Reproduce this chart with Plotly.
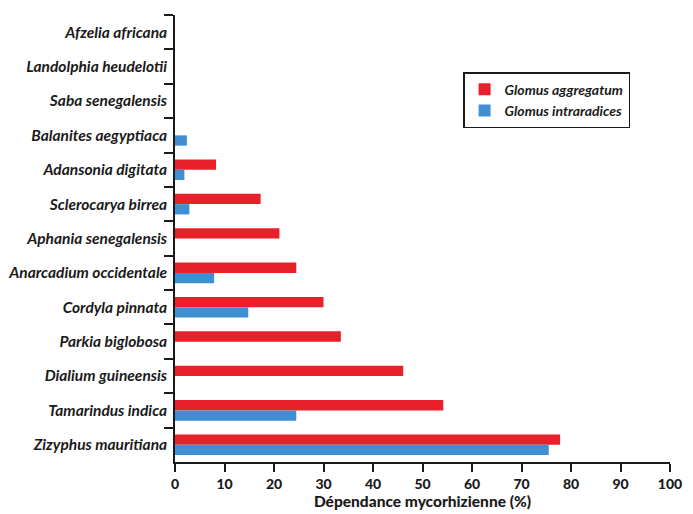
import plotly.graph_objects as go

species = [
    "Afzelia africana",
    "Landolphia heudelotii",
    "Saba senegalensis",
    "Balanites aegyptiaca",
    "Adansonia digitata",
    "Sclerocarya birrea",
    "Aphania senegalensis",
    "Anarcadium occidentale",
    "Cordyla pinnata",
    "Parkia biglobosa",
    "Dialium guineensis",
    "Tamarindus indica",
    "Zizyphus mauritiana",
]
glomus_aggregatum = [0, 0, 0, 0, 8.3, 17.3, 21.1, 24.5, 30.0, 33.5, 46.1, 54.2, 77.8]
glomus_intraradices = [0, 0, 0, 2.4, 1.9, 2.9, 0, 7.9, 14.8, 0, 0, 24.5, 75.5]
x_ticks = [0, 10, 20, 30, 40, 50, 60, 70, 80, 90, 100]

font_fam = "Lato, 'Open Sans', sans-serif"

fig = go.Figure()
fig.add_trace(go.Bar(
    y=species, x=glomus_aggregatum, orientation="h",
    name="<i>Glomus aggregatum</i>", marker=dict(color="#E8202A", line=dict(width=0)),
))
fig.add_trace(go.Bar(
    y=species, x=glomus_intraradices, orientation="h",
    name="<i>Glomus intraradices</i>", marker=dict(color="#3F8FD2", line=dict(width=0)),
))

fig.update_layout(
    width=685, height=506,
    margin=dict(l=167, r=23, t=7, b=52, autoexpand=False),
    paper_bgcolor="white", plot_bgcolor="white",
    barmode="group", bargap=0.4, bargroupgap=0,
    font=dict(family=font_fam, color="#1a1a1a", size=13),
    showlegend=True,
    legend=dict(
        x=0.582, y=0.872, xanchor="left", yanchor="top",
        bordercolor="#1a1a1a", borderwidth=1.5, bgcolor="white",
        font=dict(size=14, family=font_fam, weight="bold"),
        traceorder="normal", itemwidth=30,
    ),
)
fig.update_xaxes(
    automargin=False,
    range=[0, 100], tickvals=x_ticks, ticktext=[str(v) for v in x_ticks],
    showgrid=False, zeroline=False,
    showline=True, linecolor="#1a1a1a", linewidth=1.5,
    ticks="outside", ticklen=8, tickwidth=1.5, tickcolor="#1a1a1a",
    tickfont=dict(size=14, family=font_fam, weight=900),
    title=dict(text="Dépendance mycorhizienne (%)", font=dict(size=15.5, family=font_fam, weight=900), standoff=1),
)
fig.update_yaxes(
    automargin=False,
    autorange="reversed", categoryorder="array", categoryarray=species,
    showgrid=False, zeroline=False,
    showline=True, linecolor="#1a1a1a", linewidth=1.5,
    ticks="outside", ticklen=9, tickwidth=1.5, tickcolor="#1a1a1a",
    tickson="boundaries",
    tickfont=dict(size=15.5, family=font_fam, style="italic", weight="bold"),
    ticklabelstandoff=3,
)

fig.write_html("out.html")
